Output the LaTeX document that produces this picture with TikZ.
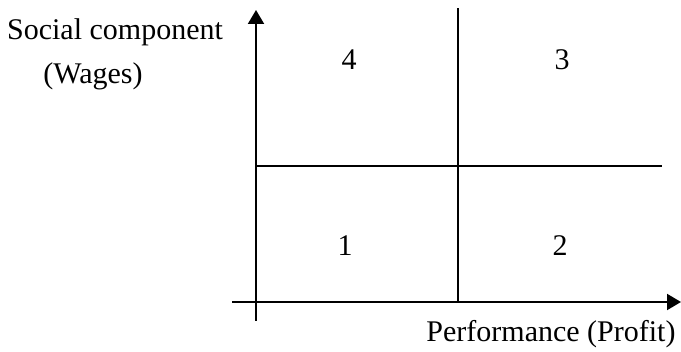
\documentclass[tikz,border=0pt]{standalone}
\usepackage{fontspec}
\setmainfont{Liberation Serif}
\usetikzlibrary{arrows.meta, positioning}

\begin{document}
\begin{tikzpicture}[x=0.5pt,y=0.5pt,>={Triangle[length=7pt,width=8pt]},font=\fontsize{15}{18}\selectfont,
  axis/.style={line width=1pt},
  quad/.style={inner sep=0pt}]
  \useasboundingbox (0,0) rectangle (681,352);
  % axes and dividing lines
  \coordinate (vbot) at (256,31);
  \coordinate (vtop) at (256,342);
  \coordinate (hleft) at (232,50);
  \coordinate (hright) at (681,50);
  \coordinate (mtop) at (458,344);
  \coordinate (mbot) at (458,50);
  \coordinate (mleft) at (256,186);
  \coordinate (mright) at (662,186);
  \draw[axis, ->] (vbot) -- (vtop);
  \draw[axis, ->] (hleft) -- (hright);
  \draw[axis] (mbot) -- (mtop);
  \draw[axis] (mleft) -- (mright);
  % quadrant numbers
  \node[quad] (q4) at (349,292) {4};
  \node[quad] (q3) at (562,292) {3};
  \node[quad] (q1) at (345,106) {1};
  \node[quad] (q2) at (560,106) {2};
  % axis labels
  \node (ylab) at (115,320) {Social component};
  \node (ywage) at (93,276) {(Wages)};
  \node (xlab) at (551,18) {Performance (Profit)};
\end{tikzpicture}
\end{document}
